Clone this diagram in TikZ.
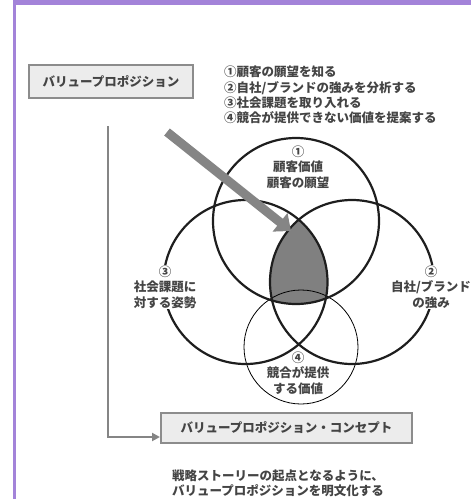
\documentclass[tikz,border=0pt]{standalone}
\usepackage{fontspec}
\setmainfont{Noto Sans CJK JP}
\usetikzlibrary{arrows.meta}
\definecolor{purp}{HTML}{A383D9}
\definecolor{txt}{HTML}{444444}
\definecolor{boxline}{HTML}{8C8C8C}
\definecolor{boxfill}{HTML}{ECECEC}
\definecolor{shadefill}{HTML}{808080}
\definecolor{arrowgray}{HTML}{858585}
\definecolor{thin}{HTML}{A8A8A8}
\definecolor{ring}{HTML}{1E1E1E}
\begin{document}
\begin{tikzpicture}[x=1pt,y=-1pt,
  every node/.style={text=txt,font=\fontsize{12.5}{15.3}\selectfont\bfseries},
  vbox/.style={draw=boxline,fill=boxfill,line width=2pt,inner sep=0pt},
  ringline/.style={draw=ring,line width=2.2pt},
  conn/.style={draw=arrowgray,line width=2.5pt,-{Triangle[width=8pt,length=8pt]}},
  bigarrow/.style={draw=arrowgray,line width=9pt,-{Triangle[width=23pt,length=14pt]}},
  lbl/.style={align=center,inner sep=0pt},
  wlbl/.style={lbl,fill=white,inner sep=1pt}]
\useasboundingbox (0,0) rectangle (471,499);
% frame
\fill[purp] (13,0) rectangle (471,5);
\fill[purp] (13,0) rectangle (16,499);
% shaded intersection
\begin{scope}
  \clip (296,221) circle[radius=83pt];
  \clip (245.5,282) circle[radius=82pt];
  \fill[shadefill] (352,282) circle[radius=82pt];
\end{scope}
% circles
\draw[thin,line width=0.8pt] (301,347) circle[radius=57pt];
\draw[ringline] (296,221) circle[radius=83pt];
\draw[ringline] (245.5,282) circle[radius=82pt];
\draw[ringline] (352,282) circle[radius=82pt];
% boxes
\node[vbox,minimum width=164pt,minimum height=33pt] (vp) at (111,81.5) {\raisebox{-6.5pt}{バリュープロポジション}};
\node[vbox,minimum width=251pt,minimum height=30pt] (vpc) at (286.5,428) {\raisebox{-7pt}{バリュープロポジション・コンセプト}};
% connector
\coordinate (vstart) at (108,126);
\draw[conn] (vstart) |- ([yshift=-9pt]vpc.west);
% big arrow
\coordinate (arrS) at (167,132);
\coordinate (arrE) at (291,231);
\draw[bigarrow] (arrS) -- (arrE);
% list
\node[align=left,anchor=west,inner sep=0pt] (list) at (224,95) {①顧客の願望を知る\\②自社/ブランドの強みを分析する\\③社会課題を取り入れる\\④競合が提供できない価値を提案する};
% circle labels
\node[lbl] (c1) at (298,167) {①\\顧客価値\\顧客の願望};
\node[wlbl] (c3) at (165,287) {③\\社会課題に\\対する姿勢};
\node[wlbl] (c2) at (431,287) {②\\自社/ブランド\\の強み};
\node[lbl] (c4) at (298,373) {④\\競合が提供\\する価値};
% bottom text
\node[align=left,anchor=west,inner sep=0pt] (foot) at (172,483) {戦略ストーリーの起点となるように、\\バリュープロポジションを明文化する};
\end{tikzpicture}
\end{document}
